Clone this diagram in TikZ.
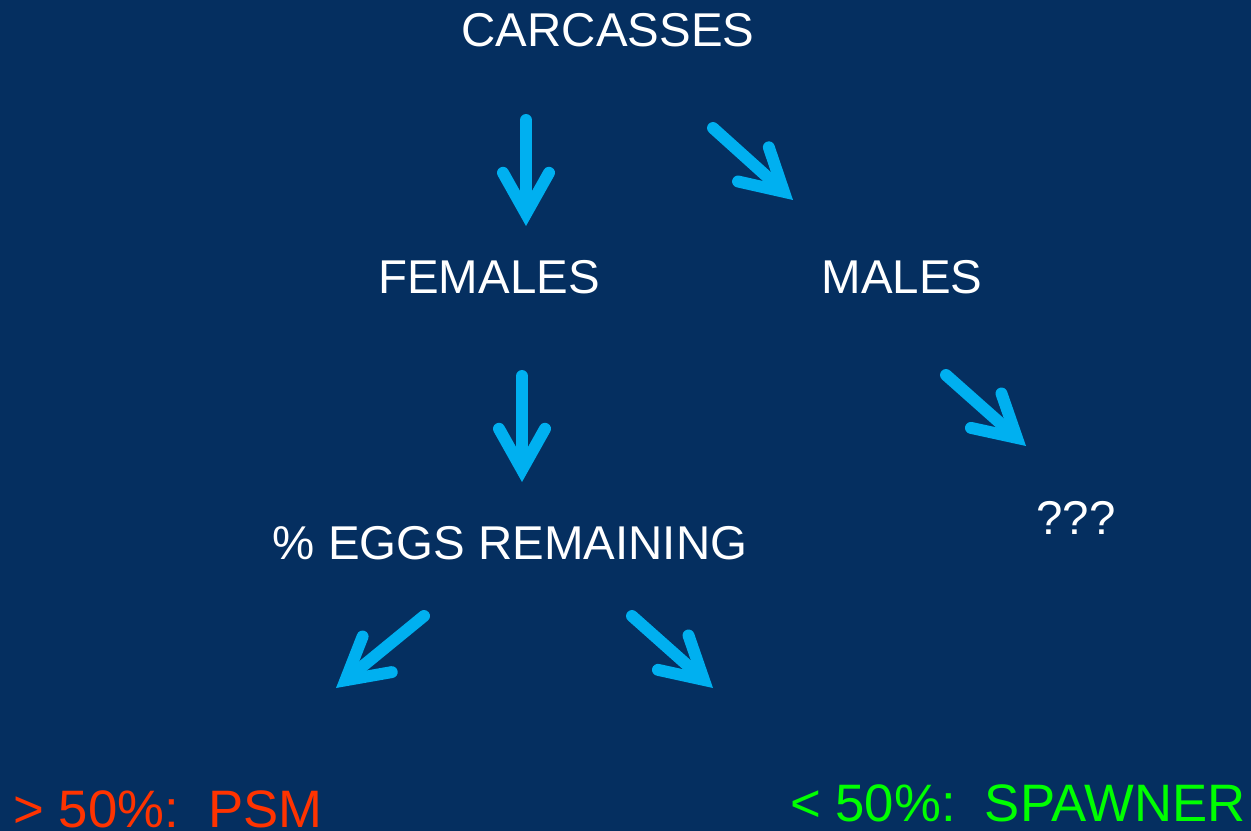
\documentclass[tikz,border=0pt]{standalone}
\usepackage{fontspec}
\setmainfont{Liberation Sans}
\usetikzlibrary{arrows.meta}
\definecolor{slidebg}{HTML}{052F60}
\definecolor{arrowblue}{HTML}{00B0F0}
\definecolor{psmred}{HTML}{FF3300}
\definecolor{spawngreen}{HTML}{00FF00}
\tikzset{
  label/.style={text=white, inner sep=0pt, font=\fontsize{27}{32}\selectfont},
  result/.style={inner sep=0pt, font=\fontsize{30}{36}\selectfont},
  bigarrow/.style={draw=arrowblue, line width=6.8pt, line cap=round,
    -{Straight Barb[length=0.82cm, width=0.92cm, line width=6.8pt, line cap=round, line join=miter]}}
}
\begin{document}
\begin{tikzpicture}[x=0.02cm, y=-0.02cm]
            \fill[slidebg] (0,0) rectangle (1251,831);
            \useasboundingbox (0,0) rectangle (1251,831);

            \node[label] (carc) at (608, 30) {CARCASSES};
            \node[label] (fem) at (489, 277) {FEMALES};
            \node[label] (male) at (902, 277) {MALES};
            \node[label] (eggs) at (510, 543) {\% EGGS REMAINING};
            \node[label] (unk) at (1076, 518) {???};
            \node[result, text=psmred, anchor=base west] (psm) at (13, 827) {> 50\%:\ \ PSM};
            \node[result, text=spawngreen, anchor=base east] (spawn) at (1246, 821) {< 50\%:\ \ SPAWNER};

            % arrow ends
            \coordinate (cf1) at (526, 120); \coordinate (cf2) at (526, 226);
            \coordinate (cm1) at (713, 128); \coordinate (cm2) at (793, 200);
            \coordinate (fe1) at (522, 376); \coordinate (fe2) at (522, 482);
            \coordinate (mu1) at (946, 375); \coordinate (mu2) at (1026, 446);
            \coordinate (ep1) at (424, 616); \coordinate (ep2) at (336, 688);
            \coordinate (es1) at (632, 616); \coordinate (es2) at (713, 688);

            \draw[bigarrow] (cf1) -- (cf2);
            \draw[bigarrow] (cm1) -- (cm2);
            \draw[bigarrow] (fe1) -- (fe2);
            \draw[bigarrow] (mu1) -- (mu2);
            \draw[bigarrow] (ep1) -- (ep2);
            \draw[bigarrow] (es1) -- (es2);

        \end{tikzpicture}
\end{document}
